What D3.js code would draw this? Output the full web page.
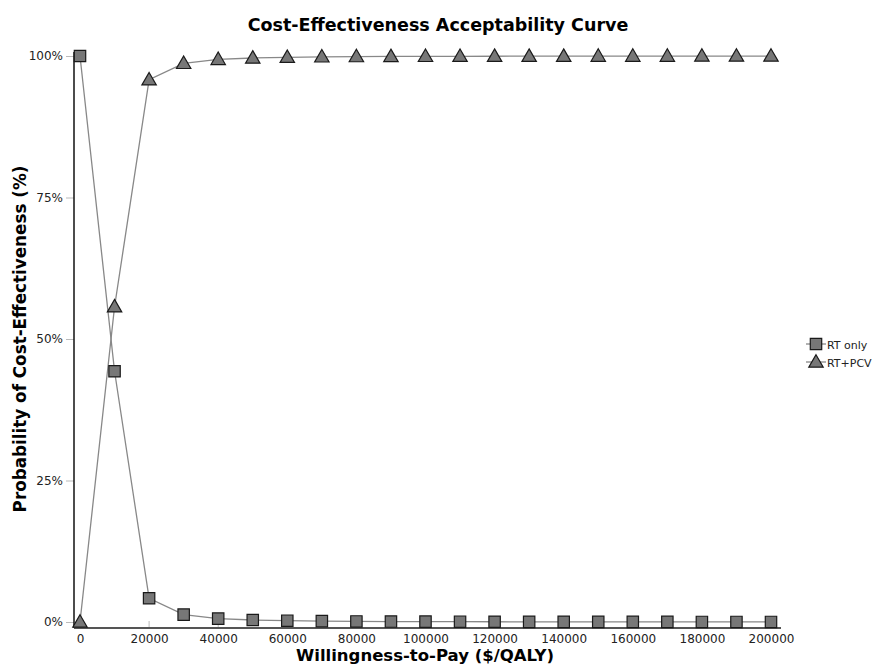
<!DOCTYPE html>
<html><head><meta charset="utf-8">
<script src="https://cdn.jsdelivr.net/npm/d3@7"></script>
<style>body{margin:0;background:#fff;}svg{display:block;}</style>
</head><body>
<svg id="c" width="877" height="666"></svg>
<script>
const wtp = [0,10000,20000,30000,40000,50000,60000,70000,80000,90000,100000,110000,120000,130000,140000,150000,160000,170000,180000,190000,200000];
const rtOnly = [1.0,0.443,0.042,0.013,0.006,0.0035,0.0023,0.0015,0.001,0.0008,0.0006,0.0005,0.0004,0.0003,0.0003,0.0002,0.0002,0.0002,0.0001,0.0001,0.0001];
const rtPcv = [0.0,0.557,0.958,0.987,0.994,0.9965,0.9977,0.9985,0.999,0.9992,0.9994,0.9995,0.9996,0.9997,0.9997,0.9998,0.9998,0.9998,0.9999,0.9999,0.9999];
const seriesNames = ["RT only","RT+PCV"];
const xTicks = [0,20000,40000,60000,80000,100000,120000,140000,160000,180000,200000];
const yTicks = [0,0.25,0.5,0.75,1];

const svg = d3.select("#c");
const font = "'DejaVu Sans', Verdana, sans-serif";
const x = d3.scaleLinear().domain([0,200000]).range([80,771]);
const y = d3.scaleLinear().domain([0,1]).range([622,56]);

svg.append("text").attr("x",438).attr("y",31).attr("text-anchor","middle")
  .attr("font-family",font).attr("font-weight","bold").attr("font-size",17.5).text("Cost-Effectiveness Acceptability Curve");

// y axis
const ya = svg.append("g").attr("transform","translate(74,0)")
  .call(d3.axisLeft(y).tickValues(yTicks).tickFormat(d3.format(".0%")).tickSize(8).tickPadding(3));
ya.select(".domain").remove();
ya.selectAll(".tick line").attr("stroke","#bbb");
ya.selectAll(".tick text").attr("font-family",font).attr("font-size",12).attr("fill","#222");
svg.append("line").attr("x1",74).attr("x2",74).attr("y1",52).attr("y2",628).attr("stroke","#111").attr("stroke-width",1.5);

// x axis
const xa = svg.append("g").attr("transform","translate(0,628)")
  .call(d3.axisBottom(x).tickValues(xTicks).tickFormat(d3.format("d")).tickSize(0).tickPadding(6));
xa.select(".domain").remove();
xa.selectAll(".tick text").attr("font-family",font).attr("font-size",12).attr("fill","#222");
xTicks.forEach(t=>{
  svg.append("line").attr("x1",x(t)).attr("x2",x(t)).attr("y1",621).attr("y2",628).attr("stroke","#bbb");
});
svg.append("line").attr("x1",74).attr("x2",781).attr("y1",628).attr("y2",628).attr("stroke","#555").attr("stroke-width",2);

svg.append("text").attr("x",425).attr("y",661).attr("text-anchor","middle")
  .attr("font-family",font).attr("font-weight","bold").attr("font-size",16.5).text("Willingness-to-Pay ($/QALY)");
svg.append("text").attr("transform","translate(26,339) rotate(-90)").attr("text-anchor","middle")
  .attr("font-family",font).attr("font-weight","bold").attr("font-size",16.8).text("Probability of Cost-Effectiveness (%)");

const line = d3.line().x((d,i)=>x(wtp[i])).y(d=>y(d));
[rtOnly,rtPcv].forEach(s=>{
  svg.append("path").datum(s).attr("d",line).attr("fill","none").attr("stroke","#888").attr("stroke-width",1.3);
});
const sq = d3.symbol().type(d3.symbolSquare).size(130);
const tri = d3.symbol().type(d3.symbolTriangle).size(90);
svg.append("g").selectAll("path").data(rtOnly).join("path")
  .attr("d",sq).attr("transform",(d,i)=>`translate(${x(wtp[i])},${y(d)})`)
  .attr("fill","#777").attr("stroke","#1a1a1a").attr("stroke-width",1.2);
svg.append("g").selectAll("path").data(rtPcv).join("path")
  .attr("d",tri).attr("transform",(d,i)=>`translate(${x(wtp[i])},${y(d)+1})`)
  .attr("fill","#777").attr("stroke","#1a1a1a").attr("stroke-width",1.2);

// legend
const lg = svg.append("g");
seriesNames.forEach((n,i)=>{
  const cy = 344 + i*18;
  lg.append("line").attr("x1",806).attr("x2",826).attr("y1",cy).attr("y2",cy).attr("stroke","#888").attr("stroke-width",1.3);
  lg.append("path").attr("d", i===0?sq:tri).attr("transform",`translate(816,${cy+(i?1:0)})`)
    .attr("fill","#777").attr("stroke","#1a1a1a").attr("stroke-width",1.2);
  lg.append("text").attr("x",827).attr("y",cy+4.5).attr("font-family",font).attr("font-size",11).attr("fill","#222").text(n);
});
</script>
</body></html>
